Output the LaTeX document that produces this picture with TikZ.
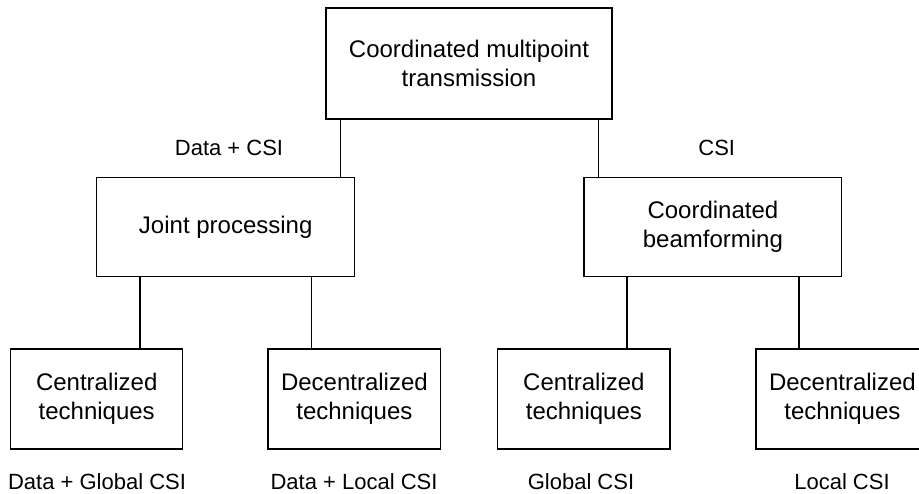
\documentclass[tikz,border=0pt]{standalone}
\usepackage{fontspec}
\setmainfont{Liberation Sans}
\begin{document}
\begin{tikzpicture}[x=1pt,y=-1pt,
  box/.style={draw=black,line width=1.3pt,inner sep=0pt,align=center,
    font=\fontsize{24}{29}\selectfont},
  lbl/.style={inner sep=0pt,font=\fontsize{22}{26}\selectfont},
  link/.style={draw=black,line width=1.3pt}]
\useasboundingbox (0,0) rectangle (919,493);
\clip (0,0) rectangle (919,493);
\fill[white] (0,0) rectangle (919,493);
\node[box,minimum width=286pt,minimum height=111pt] (top) at (469,63.5) {Coordinated multipoint\\transmission};
\node[box,minimum width=258pt,minimum height=99.5pt] (jp) at (225.7,227) {Joint processing};
\node[box,minimum width=257.7pt,minimum height=99.5pt] (cb) at (712.9,227) {Coordinated\\beamforming};
\node[box,minimum width=172pt,minimum height=100pt] (b1) at (96.7,399) {Centralized\\techniques};
\node[box,minimum width=172.7pt,minimum height=100pt] (b2) at (354.4,399) {Decentralized\\techniques};
\node[box,minimum width=172.3pt,minimum height=100pt] (b3) at (583.9,399) {Centralized\\techniques};
\node[box,minimum width=173pt,minimum height=100pt] (b4) at (842.4,399) {Decentralized\\techniques};
\coordinate (c1) at (340.5,0);
\coordinate (c2) at (598.5,0);
\coordinate (c3) at (140,0);
\coordinate (c4) at (311.7,0);
\coordinate (c5) at (627,0);
\coordinate (c6) at (799,0);
\draw[link] (top.south -| c1) -- (jp.north -| c1);
\draw[link] (top.south -| c2) -- (cb.north -| c2);
\draw[link] (jp.south -| c3) -- (b1.north -| c3);
\draw[link] (jp.south -| c4) -- (b2.north -| c4);
\draw[link] (cb.south -| c5) -- (b3.north -| c5);
\draw[link] (cb.south -| c6) -- (b4.north -| c6);
\node[lbl] (l1) at (229,148) {Data + CSI};
\node[lbl] (l2) at (716.7,148) {CSI};
\node[lbl] (l3) at (97,482) {Data + Global CSI};
\node[lbl] (l4) at (354,482) {Data + Local CSI};
\node[lbl] (l5) at (581,482) {Global CSI};
\node[lbl] (l6) at (842,482) {Local CSI};
\end{tikzpicture}
\end{document}
